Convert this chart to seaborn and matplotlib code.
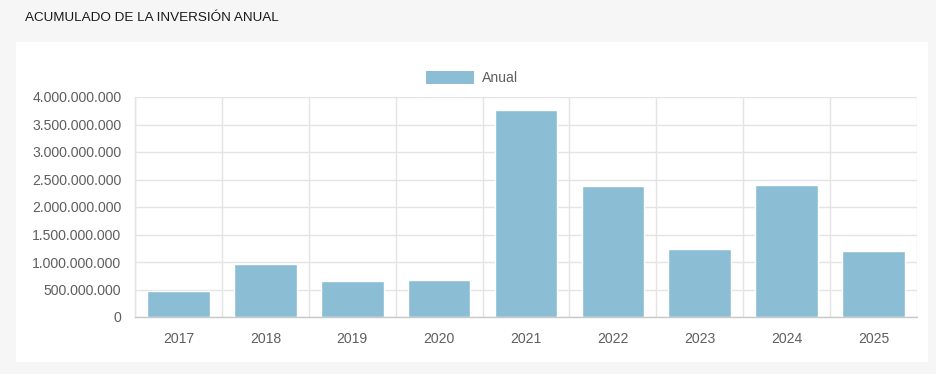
import matplotlib
matplotlib.use("Agg")
import matplotlib.pyplot as plt
import matplotlib.ticker as mticker
from matplotlib.patches import Rectangle, Patch
import seaborn as sns
import pandas as pd
import numpy as np

years = ["2017", "2018", "2019", "2020", "2021", "2022", "2023", "2024", "2025"]
anual = [470e6, 964e6, 655e6, 668e6, 3765e6, 2385e6, 1236e6, 2405e6, 1200e6]
series_label = "Anual"
title = "ACUMULADO DE LA INVERSIÓN ANUAL"

sns.set_theme(style="white")
plt.rcParams["font.family"] = ["Liberation Sans", "DejaVu Sans"]

W, H = 936, 374
fig = plt.figure(figsize=(W / 100, H / 100), dpi=100, facecolor="#f6f6f6")

# white panel
panel = Rectangle((16 / W, 1 - 362 / H), (928 - 16) / W, (362 - 42) / H,
                  transform=fig.transFigure, facecolor="white",
                  edgecolor="none", zorder=-10)
fig.patches.append(panel)

fig.text(25 / W, 1 - 18 / H, title, fontsize=9.7, color="#1a1a1a",
         ha="left", va="center")

ax = fig.add_axes([135 / W, 1 - 317 / H, (917 - 135) / W, (317 - 97) / H])
ax.set_zorder(5)
ax.patch.set_alpha(0)
df = pd.DataFrame({"year": years, "value": anual})
bar_color = "#8bbed4"
sns.barplot(data=df, x="year", y="value", color=bar_color, width=0.72,
            saturation=1, ax=ax, zorder=2)

ax.set_xlim(-0.5, len(years) - 0.5)
ax.set_ylim(0, 4e9)
ax.yaxis.set_major_locator(mticker.MultipleLocator(5e8))
ax.yaxis.set_major_formatter(mticker.FuncFormatter(
    lambda v, p: f"{int(round(v)):,}".replace(",", ".")))
ax.set_xlabel("")
ax.set_ylabel("")

grid_c = "#e4e4e4"
txt_c = "#5f5f5f"
ax.xaxis.set_minor_locator(mticker.FixedLocator(np.arange(-0.5, len(years), 1.0)))
ax.set_axisbelow(True)
ax.grid(True, axis="y", which="major", color=grid_c, lw=1)
ax.grid(True, axis="x", which="minor", color=grid_c, lw=1)
ax.grid(False, axis="x", which="major")
ax.tick_params(axis="x", which="major", length=0, pad=11, labelsize=10.1,
               labelcolor=txt_c)
ax.tick_params(axis="x", which="minor", length=7.2, width=1, color=grid_c)
ax.tick_params(axis="y", which="major", length=5.8, width=1, color=grid_c,
               pad=4, labelsize=10.1, labelcolor=txt_c)
for s in ["top", "right"]:
    ax.spines[s].set_visible(False)
ax.spines["left"].set_color(grid_c)
ax.spines["bottom"].set_color("#c9c9c9")
ax.spines["left"].set_linewidth(1)
ax.spines["bottom"].set_linewidth(1)

handle = Patch(facecolor=bar_color, edgecolor="none")
fig.legend([handle], [series_label], loc="center",
           bbox_to_anchor=(472 / W, 1 - 78 / H), frameon=False,
           fontsize=10.1, labelcolor=txt_c, handlelength=3.4,
           handleheight=1.1, handletextpad=0.6)

fig.savefig("out.png", dpi=100, facecolor=fig.get_facecolor())
